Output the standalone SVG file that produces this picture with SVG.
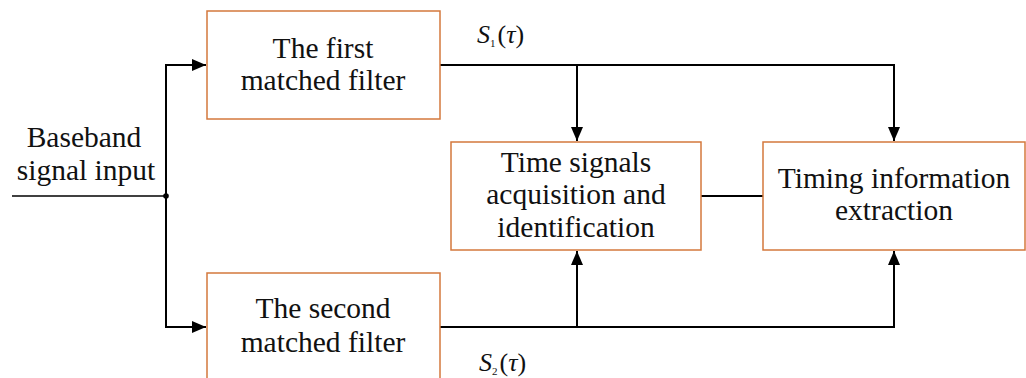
<svg xmlns="http://www.w3.org/2000/svg" width="1026" height="378" viewBox="0 0 1026 378">
<style>
.box{fill:#fff;stroke:#D4783C;stroke-width:1.5}
.t{font-family:"Liberation Serif","Times New Roman",serif;font-size:29.5px;fill:#111;text-anchor:middle}
.m{font-family:"Liberation Serif","Times New Roman",serif;font-style:italic;font-size:26px;fill:#111}
.ln{fill:none;stroke:#000;stroke-width:2}
</style>
<defs>
<marker id="ah" viewBox="0 0 14 12" refX="14" refY="6" markerWidth="14" markerHeight="12" markerUnits="userSpaceOnUse" orient="auto">
<path d="M0,0 L14,6 L0,12 Z" fill="#000"/>
</marker>
</defs>
<g id="connectors">
<path class="ln" d="M12,196 H166" style="stroke-width:1.5"/>
<path class="ln" d="M166,196 V65 H206" marker-end="url(#ah)"/>
<path class="ln" d="M166,196 V327 H206" marker-end="url(#ah)"/>
<path class="ln" d="M440,65 H894 V141" marker-end="url(#ah)"/>
<path class="ln" d="M577,65 V141" marker-end="url(#ah)"/>
<path class="ln" d="M440,327 H894 V251" marker-end="url(#ah)"/>
<path class="ln" d="M577,327 V251" marker-end="url(#ah)"/>
<path class="ln" d="M701,196 H763"/>
<circle cx="166" cy="196" r="2.8" fill="#000"/>
</g>
<g id="input-label">
<text class="t" x="84" y="147">Baseband</text>
<text class="t" x="86" y="180">signal input</text>
</g>
<g id="filter1">
<rect class="box" x="207" y="11" width="233" height="108"/>
<text class="t" x="323" y="58">The first</text>
<text class="t" x="323" y="90">matched filter</text>
</g>
<g id="filter2">
<rect class="box" x="207" y="273" width="233" height="120"/>
<text class="t" x="323" y="318">The second</text>
<text class="t" x="323" y="352">matched filter</text>
</g>
<g id="acquisition">
<rect class="box" x="451" y="142" width="250" height="108"/>
<text class="t" x="576" y="172">Time signals</text>
<text class="t" x="576" y="204">acquisition and</text>
<text class="t" x="576" y="237">identification</text>
</g>
<g id="extraction">
<rect class="box" x="763" y="142" width="262" height="108"/>
<text class="t" x="894" y="188">Timing information</text>
<text class="t" x="894" y="220">extraction</text>
</g>
<g id="s1-label">
<text class="m" x="477" y="43">S<tspan font-size="11" font-style="normal" dy="4">1</tspan><tspan dy="-4" dx="2" font-style="normal">(</tspan>τ<tspan font-style="normal">)</tspan></text>
</g>
<g id="s2-label">
<text class="m" x="479" y="371">S<tspan font-size="11" font-style="normal" dy="4">2</tspan><tspan dy="-4" dx="2" font-style="normal">(</tspan>τ<tspan font-style="normal">)</tspan></text>
</g>
</svg>
